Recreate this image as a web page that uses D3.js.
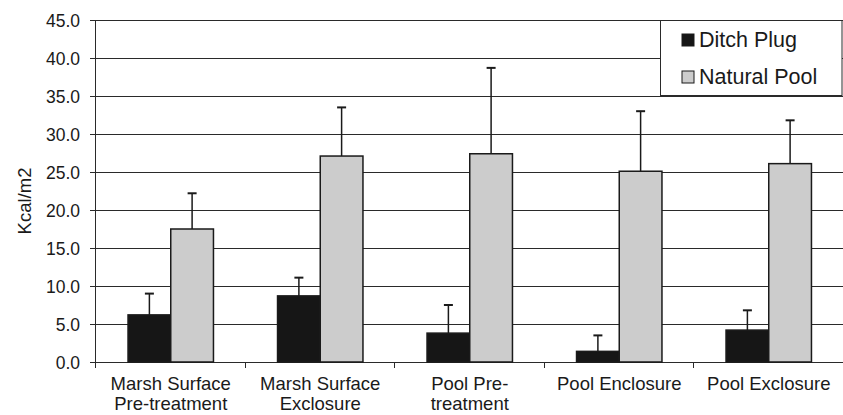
<!DOCTYPE html>
<html>
<head>
<meta charset="utf-8">
<script src="https://cdn.jsdelivr.net/npm/d3@7"></script>
<style>
  body { margin: 0; background: #fff; }
  text { font-family: "Liberation Sans", Arial, sans-serif; fill: #1a1a1a; }
</style>
</head>
<body>
<div id="chart"></div>
<script>
var categories = [["Marsh Surface", "Pre-treatment"], ["Marsh Surface", "Exclosure"], ["Pool Pre-", "treatment"], ["Pool Enclosure"], ["Pool Exclosure"]];
var seriesNames = ["Ditch Plug", "Natural Pool"];
var ditchPlug = [6.2, 8.7, 3.8, 1.4, 4.2];
var ditchPlugErr = [2.8, 2.4, 3.7, 2.1, 2.6];
var naturalPool = [17.5, 27.1, 27.4, 25.1, 26.1];
var naturalPoolErr = [4.7, 6.4, 11.3, 7.9, 5.7];
var yTicks = [0, 5, 10, 15, 20, 25, 30, 35, 40, 45];

var width = 843, height = 415;
var plotLeft = 96, plotTop = 20, plotRight = 843.5, plotBottom = 362;
var colors = ["#161616", "#cccccc"];

var svg = d3.select("#chart").append("svg")
  .attr("width", width)
  .attr("height", height);

var x = d3.scaleBand()
  .domain(d3.range(categories.length))
  .range([plotLeft, plotRight])
  .paddingInner(0)
  .paddingOuter(0);

var y = d3.scaleLinear().domain([0, 45]).range([plotBottom, plotTop]);

// gridlines + y ticks
svg.selectAll("line.grid").data(yTicks).enter().append("line")
  .attr("x1", plotLeft - 6).attr("x2", width)
  .attr("y1", function(d) { return Math.round(y(d)) + 0.5; })
  .attr("y2", function(d) { return Math.round(y(d)) + 0.5; })
  .style("stroke", "#2a2a2a")
  .style("stroke-width", 1);

svg.selectAll("text.ytick").data(yTicks).enter().append("text")
  .attr("x", 80)
  .attr("y", function(d) { return y(d) + 6.5; })
  .attr("text-anchor", "end")
  .attr("font-size", "17.5px")
  .text(function(d) { return d.toFixed(1); });

// y axis line
svg.append("line")
  .attr("x1", plotLeft - 0.5).attr("x2", plotLeft - 0.5)
  .attr("y1", plotTop).attr("y2", plotBottom + 6)
  .style("stroke", "#2a2a2a");

// x ticks at category boundaries
svg.selectAll("line.xtick").data(d3.range(1, categories.length)).enter().append("line")
  .attr("x1", function(d) { return Math.round(x(d)) - 0.5; })
  .attr("x2", function(d) { return Math.round(x(d)) - 0.5; })
  .attr("y1", plotBottom).attr("y2", plotBottom + 6)
  .style("stroke", "#2a2a2a");

// bars
var bw = x.bandwidth() / 3.5;
var series = [
  { vals: ditchPlug, errs: ditchPlugErr },
  { vals: naturalPool, errs: naturalPoolErr }
];

function barX(i, si) { return x(i) + x.bandwidth() / 2 - bw + si * bw; }

series.forEach(function(s, si) {
  var g = svg.append("g");
  // error bars first so the bar outline sits on top
  g.selectAll("line.err").data(s.vals).enter().append("line")
    .attr("x1", function(d, i) { return barX(i, si) + bw / 2; })
    .attr("x2", function(d, i) { return barX(i, si) + bw / 2; })
    .attr("y1", function(d) { return y(d); })
    .attr("y2", function(d, i) { return y(d + s.errs[i]); })
    .style("stroke", "#1a1a1a")
    .style("stroke-width", 1.5);
  g.selectAll("line.cap").data(s.vals).enter().append("line")
    .attr("x1", function(d, i) { return barX(i, si) + bw / 2 - 4.5; })
    .attr("x2", function(d, i) { return barX(i, si) + bw / 2 + 4.5; })
    .attr("y1", function(d, i) { return y(d + s.errs[i]); })
    .attr("y2", function(d, i) { return y(d + s.errs[i]); })
    .style("stroke", "#1a1a1a")
    .style("stroke-width", 2);
  g.selectAll("rect").data(s.vals).enter().append("rect")
    .attr("x", function(d, i) { return barX(i, si); })
    .attr("y", function(d) { return y(d); })
    .attr("width", bw)
    .attr("height", function(d) { return plotBottom - y(d); })
    .style("fill", colors[si])
    .style("stroke", "#1a1a1a")
    .style("stroke-width", 1.5);
});

// x labels
categories.forEach(function(lines, i) {
  var t = svg.append("text")
    .attr("text-anchor", "middle")
    .attr("font-size", "18.5px");
  lines.forEach(function(l, j) {
    t.append("tspan")
      .attr("x", x(i) + x.bandwidth() / 2)
      .attr("y", 390 + j * 20)
      .text(l);
  });
});

// y axis title
svg.append("text")
  .attr("transform", "translate(31," + 201 + ") rotate(-90)")
  .attr("text-anchor", "middle")
  .attr("font-size", "18.5px")
  .text("Kcal/m2");

// legend
var lg = svg.append("g");
lg.append("rect")
  .attr("x", 660.5).attr("y", 20.5)
  .attr("width", 181.5).attr("height", 75)
  .style("fill", "#fff")
  .style("stroke", "#2a2a2a");
seriesNames.forEach(function(n, i) {
  lg.append("rect")
    .attr("x", 682).attr("y", 34 + i * 37)
    .attr("width", 12).attr("height", 12)
    .style("fill", colors[i])
    .style("stroke", "#1a1a1a");
  lg.append("text")
    .attr("x", 699).attr("y", 47.3 + i * 36.7)
    .attr("font-size", "21.5px")
    .text(n);
});
</script>
</body>
</html>
